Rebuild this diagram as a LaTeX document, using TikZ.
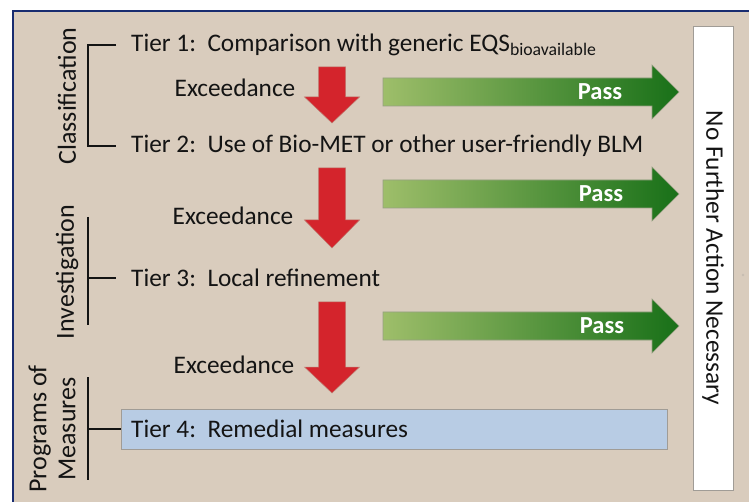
\documentclass[tikz,border=0pt]{standalone}
\usepackage{fontspec}
\setmainfont{Carlito}
\definecolor{panel}{RGB}{217,204,189}
\definecolor{frameblue}{RGB}{24,44,112}
\definecolor{tierfill}{RGB}{184,204,228}
\definecolor{boxedge}{RGB}{160,156,150}
\definecolor{failred}{RGB}{212,36,44}
\definecolor{failedge}{RGB}{190,120,110}
\definecolor{passlight}{RGB}{158,190,106}
\definecolor{passdark}{RGB}{24,112,24}
\definecolor{passedge}{RGB}{150,160,130}
\definecolor{ink}{RGB}{20,20,20}
\tikzset{
  x=1pt, y=-1pt,
  bodytext/.style={inner sep=0pt, text=ink, font=\fontsize{25.3}{29}\selectfont},
  tiertext/.style={bodytext, anchor=west},
  sidelabel/.style={inner sep=0pt, text=ink, font=\fontsize{26}{29}\selectfont, rotate=90, align=center},
  exceedlabel/.style={bodytext},
  passlabel/.style={inner sep=0pt, text=white, font=\fontsize{24.5}{28}\selectfont\bfseries},
  bracket/.style={draw=ink, line width=1.6pt},
  failarrow/.style={fill=failred, draw=failedge, line width=0.5pt},
  passarrow/.style={left color=passlight, right color=passdark, draw=passedge, line width=0.6pt},
}
% down arrow: centre x, top y, head start y, tip y
\newcommand{\failarrowat}[4]{%
  \path[failarrow] (#1-13.5,#2) -- (#1+13.5,#2) -- (#1+13.5,#3) -- (#1+27.5,#3)
    -- (#1,#4) -- (#1-27.5,#3) -- (#1-13.5,#3) -- cycle;}
% right arrow: centre y
\newcommand{\passarrowat}[1]{%
  \shade[passarrow] (383,#1-14) -- (652,#1-14) -- (652,#1-27) -- (679,#1)
    -- (652,#1+27) -- (652,#1+14) -- (383,#1+14) -- cycle;}
\begin{document}
\begin{tikzpicture}
\useasboundingbox (0,0) rectangle (749,502);
\fill[white] (0,0) rectangle (749,502);
% panel with dark frame on top and left
\fill[panel] (12,10) rectangle (749,502);
\draw[frameblue, line width=2pt] (13,502) -- (13,11) -- (749,11);

% outcome box
\node[draw=boxedge, fill=white, line width=0.8pt, minimum width=40pt, minimum height=464pt, inner sep=0pt]
  (nfa) at (713,258) {};
\node[bodytext, rotate=-90] (nfatext) at (nfa.center) {No Further Action Necessary};
\fill[panel!80!gray] (743,275) circle (1.4pt);

% tier statements
\node[tiertext] (t1) at (131,45) {Tier 1:\ \ Comparison with generic EQS\textsubscript{bioavailable}};
\node[tiertext] (t2) at (131,146) {Tier 2:\ \ Use of Bio-MET or other user-friendly BLM};
\node[tiertext] (t3) at (131,278) {Tier 3:\ \ Local refinement};
\node[draw=boxedge, fill=tierfill, line width=0.8pt, minimum width=546pt, minimum height=40pt,
  inner sep=0pt, anchor=west] (t4box) at (121,429) {};
\node[tiertext] (t4) at (131,429) {Tier 4:\ \ Remedial measures};

% group labels and brackets
\node[sidelabel] (cls) at (67,96) {Classification};
\node[sidelabel] (inv) at (67,272) {Investigation};
\node[sidelabel] (pom) at (52,429) {Programs of\\Measures};
\coordinate (b1top) at (88,45);
\coordinate (b1bot) at (88,146);
\draw[bracket] (116,45) -- (b1top) -- (b1bot) -- (116,146);
\coordinate (b2top) at (88,217);
\coordinate (b2bot) at (88,325);
\draw[bracket] (b2top) -- (b2bot);
\draw[bracket] (88,278) -- (116,278);
\coordinate (b3top) at (88,377);
\coordinate (b3bot) at (88,480);
\draw[bracket] (b3top) -- (b3bot);
\draw[bracket] (88,429) -- (t4box.west);

% exceedance arrows
\failarrowat{332}{67}{97}{123}
\failarrowat{332}{168}{220}{248}
\failarrowat{332}{302}{367}{393}
\node[exceedlabel] (ex1) at (235,88) {Exceedance};
\node[exceedlabel] (ex2) at (233,216) {Exceedance};
\node[exceedlabel] (ex3) at (234,365) {Exceedance};

% pass arrows
\passarrowat{92}
\passarrowat{194}
\passarrowat{326}
\node[passlabel] (p1) at (600,92) {Pass};
\node[passlabel] (p2) at (601,194) {Pass};
\node[passlabel] (p3) at (602,326) {Pass};
\end{tikzpicture}
\end{document}
